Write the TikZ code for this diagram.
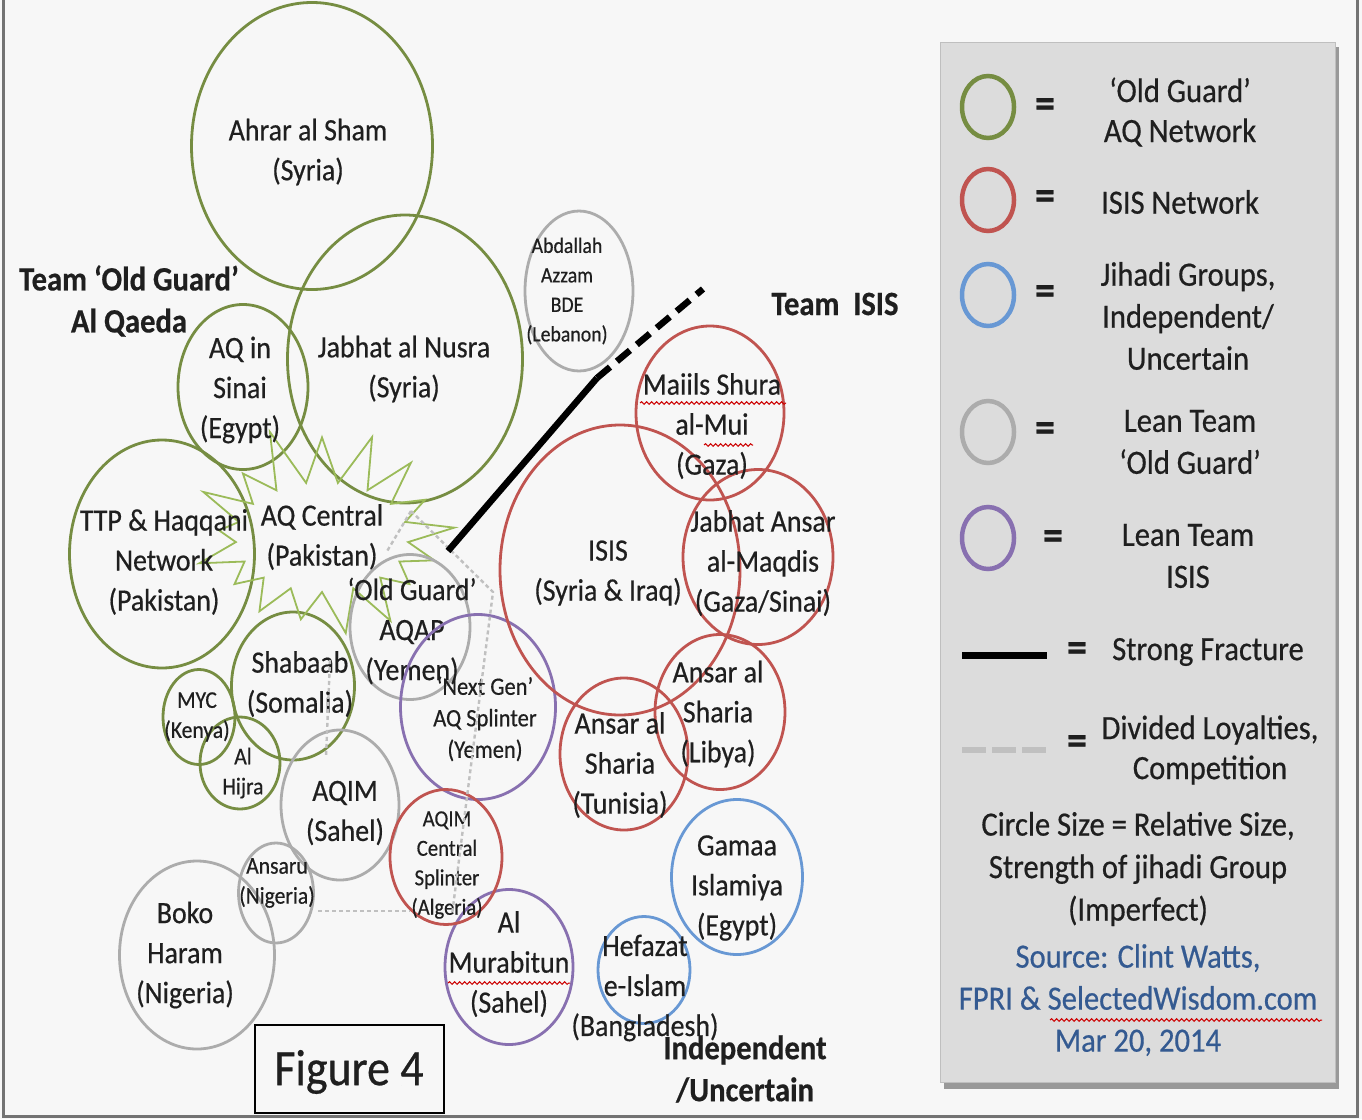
\documentclass[tikz,border=0pt]{standalone}
\usepackage{fontspec}
\setmainfont{Carlito}[FakeStretch=0.9,FakeBold=0.5]
\usetikzlibrary{shapes.symbols,decorations.pathmorphing}
\definecolor{oldguard}{RGB}{118,141,66}
\definecolor{burst}{RGB}{155,187,89}
\definecolor{isisnet}{RGB}{192,84,80}
\definecolor{indep}{RGB}{104,152,212}
\definecolor{leanold}{RGB}{172,172,172}
\definecolor{leanisis}{RGB}{136,112,176}
\definecolor{loyal}{RGB}{192,192,192}
\definecolor{legfill}{RGB}{220,220,220}
\definecolor{srcblue}{RGB}{52,90,145}
\definecolor{bgcol}{RGB}{247,247,247}

\begin{document}
\begin{tikzpicture}[x=1pt,y=-1pt,
  ring/.style={line width=2.8pt},
  keyring/.style={line width=4.5pt},
  grp/.style={align=center,inner sep=0pt,text=black!88,font=\fontsize{31}{40}\selectfont},
  smallgrp/.style={grp,font=\fontsize{22}{29.5}\selectfont},
  tinygrp/.style={grp,font=\fontsize{24}{30}\selectfont},
  keytext/.style={grp,font=\fontsize{34}{42}\selectfont},
  team/.style={grp,font=\bfseries\fontsize{34}{42}\selectfont},
  eq/.style={grp,font=\bfseries\fontsize{44}{40}\selectfont},
  divided/.style={draw=loyal,line width=2.4pt,dash pattern=on 4pt off 3pt},
  spell/.style={draw=red!80!black,line width=1pt,decorate,decoration={snake,amplitude=1.3pt,segment length=5pt}}]
\useasboundingbox (0,0) rectangle (1362,1119);
\fill[bgcol] (0,0) rectangle (1362,1119);
\draw[black!55,line width=3pt] (3,0) -- (3,1116.5) -- (1357.5,1116.5) -- (1357.5,0);

% old guard network
\draw[ring,oldguard] (312,146) ellipse (120.5pt and 143.5pt);
\draw[ring,oldguard] (405,359) ellipse (117.5pt and 144pt);
\draw[ring,oldguard] (243,387) ellipse (65pt and 82.5pt);
\draw[ring,oldguard] (162,554) ellipse (92.5pt and 114pt);
\draw[ring,oldguard] (293,686) ellipse (61.5pt and 74pt);
\draw[ring,oldguard] (199,717) ellipse (36pt and 47.5pt);
\draw[ring,oldguard] (240,763) ellipse (40pt and 46pt);
\node[starburst,draw=burst,line width=1.8pt,starburst points=17,
  starburst point height=60pt,random starburst=11,
  minimum width=175pt,minimum height=230pt,grp] (aqcentral) at (322,537)
  {AQ Central\\(Pakistan)};

\node[grp] (ahrar) at (308,152) {Ahrar al Sham\\(Syria)};
\node[grp] (nusra) at (404,369) {Jabhat al Nusra\\(Syria)};
\node[grp] (sinai) at (240,390) {AQ in\\Sinai\\(Egypt)};
\node[grp] (ttp) at (164,562) {TTP \& Haqqani\\Network\\(Pakistan)};
\node[grp] (shabaab) at (300,684) {Shabaab\\(Somalia)};
\node[tinygrp] (myc) at (197,717) {MYC\\(Kenya)};
\node[tinygrp] (hijra) at (243,773) {Al\\Hijra};

% lean old guard
\draw[ring,leanold] (579,291) ellipse (54pt and 80pt);
\draw[ring,leanold] (410,627) ellipse (60pt and 72.5pt);
\draw[ring,leanold] (340,805) ellipse (59pt and 75pt);
\draw[ring,leanold] (276,893) ellipse (37.5pt and 50pt);
\draw[ring,leanold] (197,955) ellipse (77.5pt and 94pt);
\node[smallgrp] (azzam) at (567,291) {Abdallah\\Azzam\\BDE\\(Lebanon)};
\node[grp] (aqap) at (412,631) {`Old Guard'\\AQAP\\(Yemen)};
\node[grp] (aqim) at (345,813) {AQIM\\(Sahel)};
\node[tinygrp] (ansaru) at (277,883) {Ansaru\\(Nigeria)};
\node[grp] (boko) at (185,955) {Boko\\Haram\\(Nigeria)};

% lean isis
\draw[ring,leanisis] (478,707) ellipse (77.5pt and 92.5pt);
\draw[ring,leanisis] (509,967) ellipse (64pt and 77.5pt);
\node[grp,font=\fontsize{25}{31.5}\selectfont] (nextgen) at (485,719) {`Next Gen'\\AQ Splinter\\(Yemen)};
\node[grp] (murabitun) at (509,964) {Al\\Murabitun\\(Sahel)};

% isis network
\draw[ring,isisnet] (620,570) ellipse (120pt and 145pt);
\draw[ring,isisnet] (710,413) ellipse (74pt and 87pt);
\draw[ring,isisnet] (758,557) ellipse (75pt and 87.5pt);
\draw[ring,isisnet] (720,712) ellipse (65pt and 77.5pt);
\draw[ring,isisnet] (624,754) ellipse (64pt and 76pt);
\draw[ring,isisnet] (446,857) ellipse (56pt and 67.5pt);
\node[grp] (isis) at (608,573) {ISIS\\(Syria \& Iraq)};
\node[grp] (shura) at (712,426) {Maiils Shura\\al-Mui\\(Gaza)};
\node[grp] (maqdis) at (763,563) {Jabhat Ansar\\al-Maqdis\\(Gaza/Sinai)};
\node[grp] (libya) at (718,714) {Ansar al\\Sharia\\(Libya)};
\node[grp] (tunisia) at (620,765) {Ansar al\\Sharia\\(Tunisia)};
\node[grp,font=\fontsize{23}{29.5}\selectfont] (aqimsplit) at (447,865) {AQIM\\Central\\Splinter\\(Algeria)};

% independent
\draw[ring,indep] (737,877) ellipse (65.5pt and 77.5pt);
\draw[ring,indep] (644,970) ellipse (46pt and 53.5pt);
\node[grp] (gamaa) at (737,888) {Gamaa\\Islamiya\\(Egypt)};
\node[grp] (hefazat) at (645,988) {Hefazat\\e-Islam\\(Bangladesh)};

% spell check marks
\draw[spell] (640,403) -- (786,403);
\draw[spell] (704,445) -- (753,445);
\draw[spell] (448,983) -- (570,983);

% divided loyalties
\coordinate (apex) at (411,511);
\coordinate (bend) at (493,592);
\draw[divided] (apex) -- (386,553);
\draw[divided] (apex) -- (bend) -- (452,915);
\draw[divided] (330,660) -- (326,757);
\draw[divided] (318,911) -- (410,911);

% strong fracture
\coordinate (frbot) at (448,551);
\coordinate (frmid) at (597,378);
\coordinate (frtop) at (703,289);
\draw[line width=6.5pt] (frbot) -- (frmid);
\draw[line width=6.5pt,dash pattern=on 17pt off 9pt] (frmid) -- (frtop);

% team labels
\node[team] (teamold) at (129,301) {Team `Old Guard'\\Al Qaeda};
\node[team] (teamisis) at (835,304) {Team\ \ ISIS};
\node[team] (teamind) at (745,1069) {Independent\\/Uncertain};
\draw[line width=2pt] (255,1025) rectangle (444,1113);
\node[grp,font=\fontsize{51}{55}\selectfont] (fig) at (349,1072) {Figure 4};

% legend
\fill[black!40] (944,47) rectangle (1339,1089);
\draw[black!25,fill=legfill] (940,42) rectangle (1335,1082);
\draw[keyring,oldguard] (988,107) ellipse (26pt and 31pt);
\draw[keyring,isisnet] (988,200) ellipse (26pt and 31pt);
\draw[keyring,indep] (988,295) ellipse (26pt and 31pt);
\draw[keyring,leanold] (988,432) ellipse (26pt and 31pt);
\draw[keyring,leanisis] (988,538) ellipse (26pt and 31pt);
\draw[line width=7pt] (962,655) -- (1047,655);
\draw[loyal,line width=6pt,dash pattern=on 24pt off 6pt] (962,750) -- (1047,750);
\node[eq] (eq1) at (1045,108) {=};
\node[eq] (eq2) at (1045,200) {=};
\node[eq] (eq3) at (1045,295) {=};
\node[eq] (eq4) at (1045,432) {=};
\node[eq] (eq5) at (1053,540) {=};
\node[eq] (eq6) at (1077,652) {=};
\node[eq] (eq7) at (1077,745) {=};
\node[keytext,font=\fontsize{34}{40}\selectfont] (key1) at (1180,112) {`Old Guard'\\AQ Network};
\node[keytext] (key2) at (1180,202) {ISIS Network};
\node[keytext] (key3) at (1188,316) {Jihadi Groups,\\Independent/\\Uncertain};
\node[keytext] (key4) at (1190,442) {Lean Team\\`Old Guard'};
\node[keytext] (key5) at (1188,556) {Lean Team\\ISIS};
\node[keytext] (key6) at (1208,652) {Strong Fracture};
\node[keytext,font=\fontsize{34}{40}\selectfont] (key7) at (1210,750) {Divided Loyalties,\\Competition};
\node[keytext,font=\fontsize{34}{42.5}\selectfont] (note) at (1138,869) {Circle Size = Relative Size,\\Strength of jihadi Group\\(Imperfect)};
\node[keytext,text=srcblue] (source) at (1138,1000) {Source: Clint Watts,\\FPRI \& SelectedWisdom.com\\Mar 20, 2014};
\draw[spell] (1050,1020) -- (1322,1020);
\end{tikzpicture}
\end{document}
